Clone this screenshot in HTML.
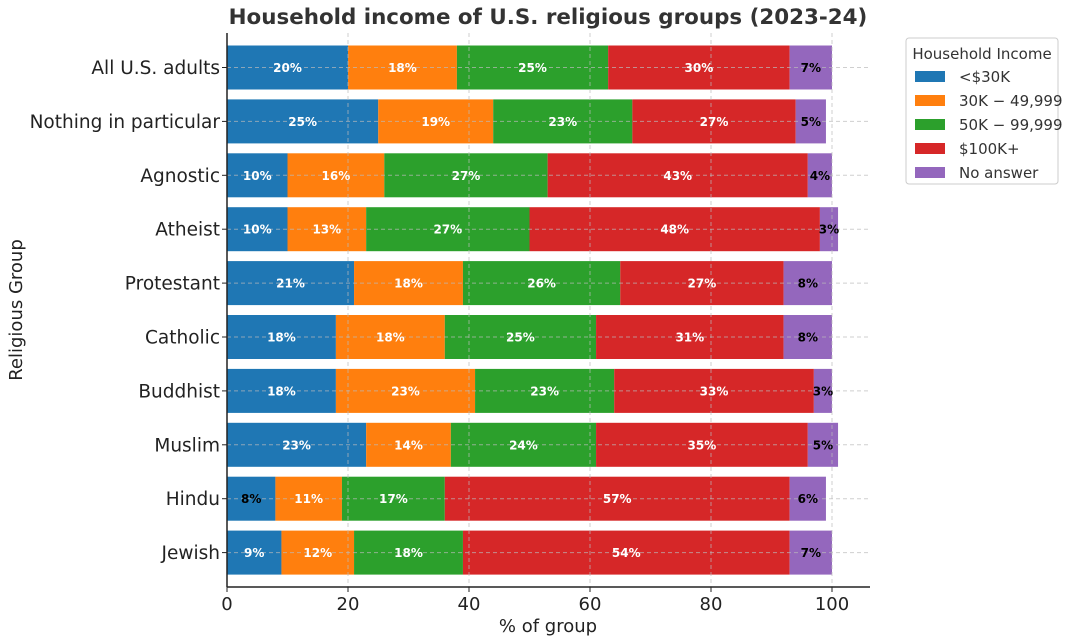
<!DOCTYPE html>
<html><head><meta charset="utf-8"><style>
body{margin:0;background:#fff;font-family:"DejaVu Sans","Liberation Sans",sans-serif;}
svg text{font-family:"DejaVu Sans","Liberation Sans",sans-serif;}
</style></head><body>
<svg id="chart" width="1073" height="640" xmlns="http://www.w3.org/2000/svg">
<text x="548" y="24" text-anchor="middle" font-size="21.4" font-weight="bold" fill="#333">Household income of U.S. religious groups (2023-24)</text>
<g id="bars"></g><g id="grid"></g><g id="axes"></g>
<text x="548" y="632" text-anchor="middle" font-size="18" fill="#222">% of group</text>
<text transform="translate(22,310) rotate(-90)" text-anchor="middle" font-size="18" fill="#222">Religious Group</text>
<g>
<rect x="906" y="38" width="152" height="146" rx="3" fill="#fff" stroke="#ccc"/>
<text x="982" y="59" text-anchor="middle" font-size="15" fill="#333">Household Income</text>
<g id="legend-items"></g>
</g>
</svg>
<script>
const categories=["All U.S. adults","Nothing in particular","Agnostic","Atheist","Protestant","Catholic","Buddhist","Muslim","Hindu","Jewish"];
const seriesNames=["<$30K","$30K−49,999","$50K−99,999","$100K+","No answer"];
const legendLabels=["<$30K","30K − 49,999","50K − 99,999","$100K+","No answer"];
const under30=[20,25,10,10,21,18,18,23,8,9];
const k30to50=[18,19,16,13,18,18,23,14,11,12];
const k50to100=[25,23,27,27,26,25,23,24,17,18];
const k100plus=[30,27,43,48,27,31,33,35,57,54];
const noAnswer=[7,5,4,3,8,8,3,5,6,7];
const xTicks=[0,20,40,60,80,100];
const colors=["#1f77b4","#ff7f0e","#2ca02c","#d62728","#9467bd"];
const series=[under30,k30to50,k50to100,k100plus,noAnswer];
const NS="http://www.w3.org/2000/svg";
const x0=227,pxPer=6.05,yTop=33,yBot=587,rowH=53.9,firstC=67.5,barH=44;
const xs=v=>x0+v*pxPer; const yc=i=>firstC+i*rowH;
function mk(t,a,p){const e=document.createElementNS(NS,t);for(const k in a)e.setAttribute(k,a[k]);p.appendChild(e);return e;}
const grid=document.getElementById('grid'),bars=document.getElementById('bars'),axes=document.getElementById('axes');
const labels=[];
xTicks.forEach(t=>{
 const g=mk('line',{x1:xs(t),x2:xs(t),y1:yTop,y2:yBot,stroke:'#bbb','stroke-opacity':0.7,'stroke-dasharray':'4,3'},grid);
 
 
 mk('line',{x1:xs(t),x2:xs(t),y1:yBot,y2:yBot+5,stroke:'#222'},axes);
 const tx=mk('text',{x:xs(t),y:yBot+23,'text-anchor':'middle','font-size':18,fill:'#222'},axes);tx.textContent=t;
 
 
});
categories.forEach((c,i)=>{
 const g=mk('line',{x1:x0,x2:870,y1:yc(i),y2:yc(i),stroke:'#bbb','stroke-opacity':0.7,'stroke-dasharray':'4,3'},grid);
 
 
 mk('line',{x1:x0-5,x2:x0,y1:yc(i),y2:yc(i),stroke:'#222'},axes);
 const tx=mk('text',{x:x0-7,y:yc(i)+6.5,'text-anchor':'end','font-size':18.5,fill:'#222'},axes);tx.textContent=c;
 
 
 let cum=0;
 series.forEach((s,j)=>{
  const v=s[i];
  const r=mk('rect',{x:xs(cum),y:yc(i)-barH/2,width:v*pxPer,height:barH,fill:colors[j]},bars);
  
  
  labels.push({x:xs(cum+v/2),y:yc(i)+4.5,v:v,j:j});
  cum+=v;
 });
});
labels.forEach(L=>{
  const t=mk('text',{x:L.x,y:L.y,'text-anchor':'middle','font-size':12,'font-weight':'bold',fill:(L.v<9||L.j==4)?'#000':'#fff'},axes);
  t.textContent=L.v+'%';
  
  
});
mk('line',{x1:x0,x2:x0,y1:yTop,y2:yBot,stroke:'#222','stroke-width':1.5},axes);
mk('line',{x1:x0,x2:870,y1:yBot,y2:yBot,stroke:'#222','stroke-width':1.5},axes);
const li=document.getElementById('legend-items');
legendLabels.forEach((l,j)=>{
 const y=77+j*24;
 const r=mk('rect',{x:915,y:y-6,width:30,height:11,fill:colors[j]},li);
 
 
 const t=mk('text',{x:959,y:y+5,'font-size':15,fill:'#333'},li);t.textContent=l;
 
 
});
</script>
</body></html>
